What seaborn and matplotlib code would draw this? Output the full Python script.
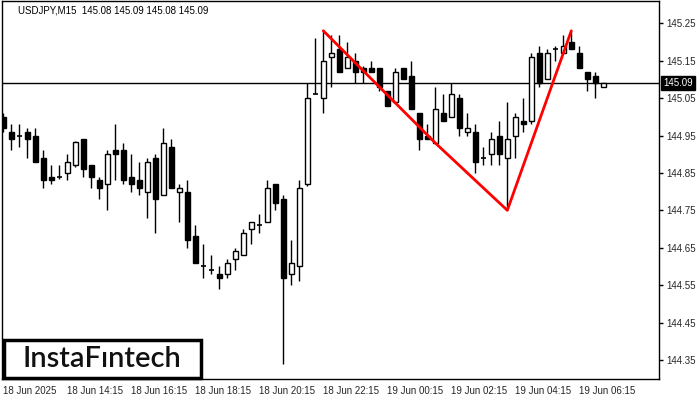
import numpy as np
import pandas as pd
import seaborn as sns
import matplotlib.pyplot as plt
from matplotlib.patches import Rectangle
import matplotlib.transforms as mtransforms

# USDJPY M15 candles, 18 Jun 12:15 .. 19 Jun 07:00
opens = [145.00, 144.96, 144.95, 144.96, 144.95, 144.89, 144.84, 144.84, 144.85, 144.87,
         144.94, 144.87, 144.83, 144.82, 144.91, 144.91, 144.84, 144.83, 144.80, 144.89,
         144.79, 144.92, 144.80, 144.80, 144.68, 144.60, 144.59, 144.58, 144.58, 144.62,
         144.63, 144.70, 144.71, 144.72, 144.82, 144.78, 144.58, 144.60, 144.82, 145.06,
         145.05, 145.16, 145.18, 145.13, 145.15, 145.13, 145.13, 145.13, 145.07, 145.04,
         145.13, 145.11, 145.01, 144.95, 144.93, 145.01, 145.00, 145.05, 144.96, 144.96,
         144.89, 144.90, 144.95, 144.89, 144.95, 144.99, 144.99, 145.17, 145.10, 145.18,
         145.17, 145.20, 145.17, 145.12, 145.11, 145.08]
highs = [145.01, 144.98, 144.98, 144.97, 144.97, 144.91, 144.87, 144.87, 144.90, 144.935,
         144.94, 144.87, 144.84, 144.91, 144.98, 144.93, 144.90, 144.88, 144.89, 144.90,
         144.97, 144.94, 144.82, 144.83, 144.71, 144.66, 144.63, 144.60, 144.62, 144.65,
         144.70, 144.72, 144.74, 144.83, 144.82, 144.79, 144.67, 144.83, 145.09, 145.21,
         145.23, 145.22, 145.22, 145.20, 145.17, 145.135, 145.15, 145.13, 145.07, 145.13,
         145.13, 145.15, 145.01, 144.98, 145.08, 145.06, 145.09, 145.06, 145.01, 144.98,
         144.92, 144.96, 144.99, 145.04, 145.01, 145.05, 145.17, 145.19, 145.18, 145.19,
         145.22, 145.23, 145.19, 145.12, 145.12, 145.09]
lows = [144.96, 144.91, 144.92, 144.89, 144.88, 144.81, 144.82, 144.835, 144.83, 144.867,
        144.84, 144.81, 144.78, 144.75, 144.83, 144.82, 144.80, 144.79, 144.73, 144.69,
        144.79, 144.81, 144.72, 144.65, 144.61, 144.57, 144.58, 144.54, 144.57, 144.59,
        144.63, 144.66, 144.69, 144.72, 144.75, 144.34, 144.55, 144.56, 144.815, 145.06,
        145.01, 145.08, 145.12, 145.13, 145.09, 145.09, 145.12, 145.07, 145.03, 145.04,
        145.10, 145.02, 144.91, 144.94, 144.93, 144.99, 145.00, 144.95, 144.95, 144.85,
        144.87, 144.87, 144.87, 144.75, 144.89, 144.96, 144.98, 145.08, 145.10, 145.15,
        145.17, 145.18, 145.13, 145.07, 145.05, 145.08]
closes = [144.97, 144.94, 144.95, 144.94, 144.88, 144.83, 144.83, 144.84, 144.88, 144.933,
          144.86, 144.84, 144.81, 144.90, 144.90, 144.83, 144.82, 144.81, 144.88, 144.78,
          144.93, 144.81, 144.81, 144.67, 144.61, 144.60, 144.59, 144.57, 144.61, 144.64,
          144.69, 144.72, 144.71, 144.81, 144.77, 144.57, 144.61, 144.81, 145.05, 145.06,
          145.15, 145.17, 145.12, 145.16, 145.12, 145.12, 145.12, 145.08, 145.03, 145.12,
          145.10, 145.02, 144.94, 144.94, 145.02, 144.99, 145.06, 144.97, 144.97, 144.88,
          144.89, 144.94, 144.90, 144.94, 145.00, 144.98, 145.16, 145.09, 145.17, 145.18,
          145.19, 145.18, 145.13, 145.10, 145.09, 145.09]

tick_labels = ['18 Jun 2025', '18 Jun 14:15', '18 Jun 16:15', '18 Jun 18:15', '18 Jun 20:15',
               '18 Jun 22:15', '19 Jun 00:15', '19 Jun 02:15', '19 Jun 04:15', '19 Jun 06:15']
price_ticks = [144.35, 144.45, 144.55, 144.65, 144.75, 144.85, 144.95, 145.05, 145.15, 145.25]

# double top outline (bar index, price)
pattern_bar = [40, 54, 63, 71]
pattern_price = [145.23, 144.93, 144.75, 145.23]
last_price = 145.09

df = pd.DataFrame({'open': opens, 'high': highs, 'low': lows, 'close': closes})
df['bar'] = np.arange(len(df))
df['up'] = df['close'] >= df['open']

sns.set_style('white')
plt.rcParams['font.family'] = ['Liberation Sans', 'DejaVu Sans']

fig = plt.figure(figsize=(7, 4), dpi=100)
ax = fig.add_axes([2 / 700, 21 / 400, 657 / 700, 378 / 400])

ax.axhline(last_price, color='black', lw=1, zorder=1)

# wicks
ax.vlines(df['bar'], df['low'], df['high'], color='black', lw=1, zorder=2)
# bodies
w = 0.6
body = (df['close'] - df['open']).abs()
bottom = df[['open', 'close']].min(axis=1)
flat = body < 0.004
ax.bar(df['bar'][~flat], body[~flat], bottom=bottom[~flat], width=w,
       color=np.where(df['up'][~flat], 'white', 'black'), edgecolor='black', lw=1, zorder=3)
ax.hlines(df['close'][flat], df['bar'][flat] - w / 2, df['bar'][flat] + w / 2,
          color='black', lw=1.2, zorder=3)

pat = pd.DataFrame({'bar': pattern_bar, 'price': pattern_price})
sns.lineplot(data=pat, x='bar', y='price', color='red', lw=2, sort=False, ax=ax, zorder=4)

ax.set_xlim(-0.16, 81.96)
ax.set_ylim(144.299, 145.3096)
ax.set_xticks(np.arange(0, 80, 8))
ax.set_xticklabels(tick_labels, ha='left', fontsize=7)
ax.set_yticks(price_ticks)
ax.set_yticklabels([f'{p:.2f}' for p in price_ticks], fontsize=7)
ax.yaxis.tick_right()
ax.tick_params(axis='both', direction='out', length=3, width=1, color='black', pad=2)
ax.set_xlabel('')
ax.set_ylabel('')
for s in ax.spines.values():
    s.set_color('black')
    s.set_linewidth(1)

ax.text(0.024, 0.976, 'USDJPY,M15  145.08 145.09 145.08 145.09', transform=ax.transAxes,
        fontsize=7, va='center', ha='left', color='black',
        bbox=dict(facecolor='white', edgecolor='none', pad=1))

trans = mtransforms.blended_transform_factory(ax.transAxes, ax.transData)
ax.text(1.006, last_price, f'{last_price:.2f}', transform=trans, fontsize=7, color='white',
        va='center', ha='left', clip_on=False,
        bbox=dict(facecolor='black', edgecolor='black', pad=1.5))

fig.patches.append(Rectangle((4 / 700, 22 / 400), 197 / 700, 38 / 400, transform=fig.transFigure,
                             facecolor='white', edgecolor='black', lw=2.5, zorder=5))
fig.text(102 / 700, 41 / 400, 'InstaFıntech', fontsize=21, family=['Lato', 'DejaVu Sans'],
         weight='semibold', ha='center', va='center', color='#111111', zorder=6)

fig.savefig('out.png', dpi=100)
